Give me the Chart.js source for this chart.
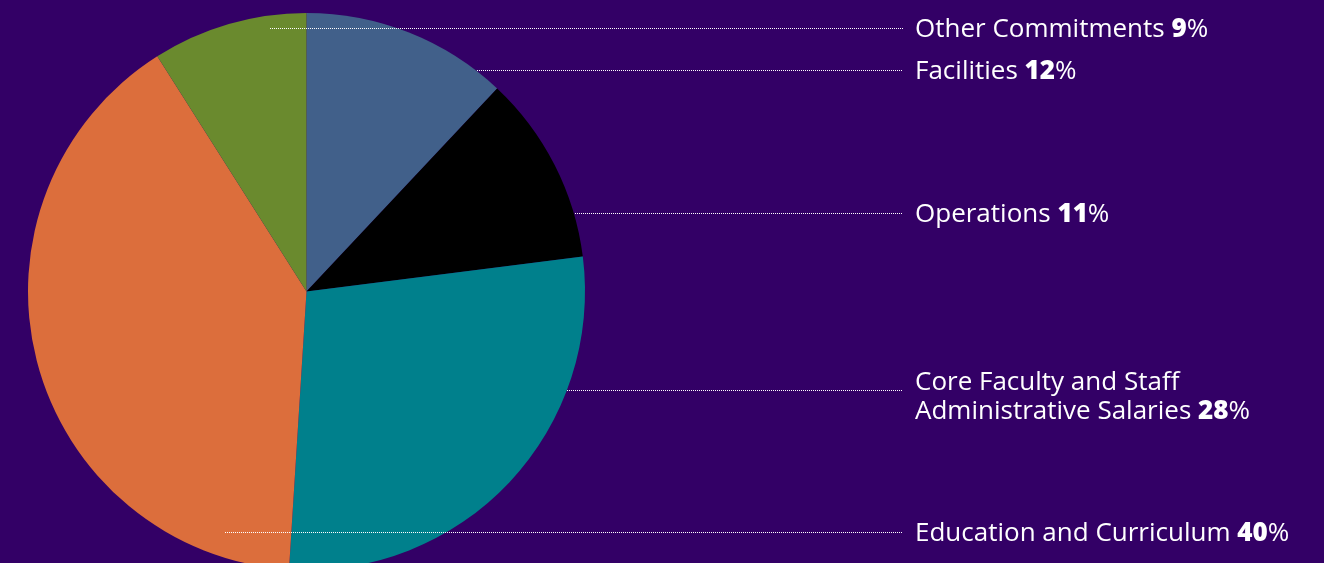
<!DOCTYPE html>
<html>
<head>
<meta charset="utf-8">
<script src="https://cdn.jsdelivr.net/npm/chart.js@4/dist/chart.umd.min.js"></script>
<style>
  html, body { margin: 0; padding: 0; background: #330066; width: 1324px; height: 563px; overflow: hidden; }
  #wrap { position: absolute; left: 0; top: 0; width: 1324px; height: 580px; }
  .lbl { position: absolute; left: 915px; color: #ffffff; font-family: "Open Sans", sans-serif; font-size: 26px; line-height: 29px; white-space: nowrap; }
  .lbl b { font-weight: 800; }
</style>
</head>
<body>
<div id="wrap"><canvas id="c" width="1324" height="580"></canvas></div>
<script>
// Data (clockwise from 12 o'clock)
const categories = ["Facilities", "Operations", "Core Faculty and Staff Administrative Salaries", "Education and Curriculum", "Other Commitments"];
const labelLines = [["Facilities"], ["Operations"], ["Core Faculty and Staff", "Administrative Salaries"], ["Education and Curriculum"], ["Other Commitments"]];
const values = [12, 11, 28, 40, 9];
const colors = ["#41608a", "#000000", "#00808c", "#dc6e3c", "#6a8a2e"];

// Layout (positions only)
const leaderY = [70, 213, 390, 532, 28];
const leaderStartX = [477, 575, 567, 225, 270];
const leaderEndX = 903;
const labelTop = [55, 198, 366, 517, 13];

const leaderPlugin = {
  id: 'leaders',
  afterDatasetsDraw(chart) {
    const ctx = chart.ctx;
    ctx.save();
    ctx.strokeStyle = '#ffffff';
    ctx.lineWidth = 1;
    ctx.setLineDash([1, 1]);
    for (let i = 0; i < leaderY.length; i++) {
      ctx.beginPath();
      ctx.moveTo(leaderStartX[i], leaderY[i] + 0.5);
      ctx.lineTo(leaderEndX, leaderY[i] + 0.5);
      ctx.stroke();
    }
    ctx.restore();
  }
};

new Chart(document.getElementById('c'), {
  type: 'pie',
  data: {
    labels: categories,
    datasets: [{ data: values, backgroundColor: colors, borderWidth: 0 }]
  },
  options: {
    responsive: false,
    animation: false,
    layout: { padding: { left: 28, right: 739, top: 13, bottom: 10 } },
    plugins: { legend: { display: false }, tooltip: { enabled: false } }
  },
  plugins: [leaderPlugin]
});

const wrap = document.getElementById('wrap');
labelLines.forEach((lines, i) => {
  const d = document.createElement('div');
  d.className = 'lbl';
  d.style.top = labelTop[i] + 'px';
  lines.forEach((ln, j) => {
    if (j > 0) d.appendChild(document.createElement('br'));
    d.appendChild(document.createTextNode(ln));
  });
  d.appendChild(document.createTextNode(' '));
  const b = document.createElement('b');
  b.textContent = values[i];
  d.appendChild(b);
  d.appendChild(document.createTextNode('%'));
  wrap.appendChild(d);
});
</script>
</body>
</html>
